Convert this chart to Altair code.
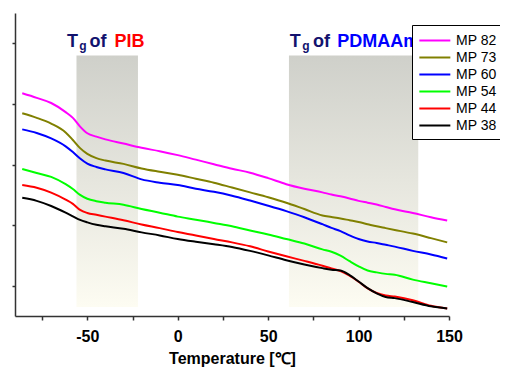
import altair as alt
import pandas as pd

# ---------------- data ----------------
temperature = [-86, -78, -70, -62, -58, -54, -50, -45, -40, -30, -20, -10, 0, 10, 20, 30, 40, 50,
               60, 70, 80, 85, 90, 95, 100, 105, 110, 115, 120, 130, 140, 149]

mp82 = [7.35, 7.20, 7.03, 6.73, 6.54, 6.25, 6.03, 5.92, 5.83, 5.69, 5.55, 5.44, 5.31, 5.16, 5.01, 4.86,
        4.73, 4.55, 4.35, 4.20, 4.08, 4.01, 3.95, 3.88, 3.80, 3.74, 3.68, 3.60, 3.52, 3.40, 3.26, 3.15]
mp73 = [6.69, 6.54, 6.35, 6.06, 5.81, 5.54, 5.35, 5.21, 5.13, 5.02, 4.87, 4.76, 4.66, 4.53, 4.40, 4.24,
        4.08, 3.92, 3.74, 3.53, 3.32, 3.27, 3.22, 3.16, 3.10, 3.03, 2.96, 2.90, 2.84, 2.72, 2.57, 2.43]
mp60 = [6.16, 6.04, 5.86, 5.60, 5.41, 5.20, 5.03, 4.92, 4.84, 4.72, 4.51, 4.40, 4.32, 4.20, 4.10, 3.97,
        3.81, 3.64, 3.46, 3.26, 3.03, 2.91, 2.80, 2.66, 2.54, 2.46, 2.41, 2.35, 2.29, 2.15, 2.03, 1.90]
mp54 = [4.85, 4.72, 4.59, 4.35, 4.19, 4.00, 3.87, 3.79, 3.74, 3.67, 3.53, 3.41, 3.28, 3.18, 3.07, 2.96,
        2.82, 2.69, 2.54, 2.39, 2.20, 2.12, 1.99, 1.81, 1.64, 1.50, 1.44, 1.39, 1.36, 1.20, 1.08, 0.97]
mp44 = [4.32, 4.23, 4.07, 3.84, 3.70, 3.50, 3.40, 3.34, 3.28, 3.16, 3.02, 2.90, 2.77, 2.66, 2.54, 2.43,
        2.30, 2.13, 1.97, 1.82, 1.66, 1.57, 1.48, 1.33, 1.13, 0.91, 0.76, 0.68, 0.64, 0.52, 0.34, 0.25]
mp38 = [3.90, 3.80, 3.63, 3.41, 3.29, 3.17, 3.09, 3.01, 2.96, 2.88, 2.76, 2.66, 2.54, 2.45, 2.37, 2.28,
        2.15, 2.00, 1.84, 1.70, 1.58, 1.53, 1.50, 1.35, 1.14, 0.92, 0.75, 0.63, 0.59, 0.46, 0.32, 0.25]

series_names = ["MP 82", "MP 73", "MP 60", "MP 54", "MP 44", "MP 38"]
series_values = [mp82, mp73, mp60, mp54, mp44, mp38]
series_colors = ["#ff00ff", "#808000", "#0000ff", "#00ff00", "#ff0000", "#000000"]

# shaded Tg regions
region_start = [-56, 61.5]
region_end = [-22, 133]
region_bottom = [0.3, 0.3]
region_top = [8.6, 8.6]

# annotation pieces
label_text = ["T", "g", "of", "PIB", "T", "g", "of", "PDMAAm"]
label_x = [-61.2, -54.5, -48.8, -35.0, 62.0, 68.8, 74.8, 88.2]
label_y = [8.89, 8.78, 8.89, 8.89, 8.89, 8.78, 8.89, 8.89]
label_color = ["#12126e", "#12126e", "#12126e", "#ff0000", "#12126e", "#12126e", "#12126e", "#0000ff"]
label_size = [18, 12, 18, 18, 18, 12, 18, 18]

x_ticks = [-75, -50, -25, 0, 25, 50, 75, 100, 125, 150]
y_ticks = [1, 2, 3, 4, 5, 6, 7, 8, 9]

# ---------------- tables ----------------
rows = []
for name, vals in zip(series_names, series_values):
    for t, v in zip(temperature, vals):
        rows.append({"Temperature": t, "value": v, "sample": name})
lines_df = pd.DataFrame(rows)

regions_df = pd.DataFrame({"x": region_start, "x2": region_end, "y": region_bottom, "y2": region_top})
labels_df = pd.DataFrame({"x": label_x, "y": label_y, "text": label_text,
                          "color": label_color, "size": label_size})

FONT = "Liberation Sans"

x_scale = alt.Scale(domain=[-90, 150], nice=False, zero=False)
y_scale = alt.Scale(domain=[0, 10], nice=False, zero=False)

gradient = alt.Gradient(
    gradient="linear",
    stops=[alt.GradientStop(color="#cfd0ca", offset=0),
           alt.GradientStop(color="#fdfcf2", offset=1)],
    x1=0, x2=0, y1=0, y2=1,
)

x_axis = alt.Axis(
    values=x_ticks,
    labelExpr="datum.value % 50 === 0 ? '' + datum.value : ''",
    title="Temperature [℃]",
    titleFont=FONT, titleFontSize=16, titleFontWeight="bold", titleColor="#000000",
    titlePadding=6,
    labelFont=FONT, labelFontSize=16, labelFontWeight="bold", labelColor="#000000",
    labelPadding=8, labelFlush=False,
    tickSize=4, tickWidth=1.5, tickColor="#333333",
    domainColor="#333333", domainWidth=1.5, grid=False,
)
y_axis = alt.Axis(
    values=y_ticks, labels=False, title=None,
    tickSize=3, tickWidth=1.5, tickColor="#333333",
    domainColor="#333333", domainWidth=1.5, grid=False,
)

rects = alt.Chart(regions_df).mark_rect(fill=gradient).encode(
    x=alt.X("x:Q", scale=x_scale, axis=x_axis),
    x2="x2:Q",
    y=alt.Y("y:Q", scale=y_scale, axis=y_axis),
    y2="y2:Q",
)

lines = alt.Chart(lines_df).mark_line(strokeWidth=2, interpolate="monotone").encode(
    x=alt.X("Temperature:Q", scale=x_scale, axis=x_axis),
    y=alt.Y("value:Q", scale=y_scale, axis=y_axis),
    color=alt.Color(
        "sample:N",
        scale=alt.Scale(domain=series_names, range=series_colors),
        sort=series_names,
        legend=alt.Legend(
            title=None, orient="none", legendX=397, legendY=12,
            strokeColor="#000000", fillColor="#ffffff", padding=6,
            symbolType="M-1,0H2.8", symbolSize=266, symbolStrokeWidth=2,
            labelFont=FONT, labelFontSize=14, labelColor="#000000", labelOffset=19,
            rowPadding=0, zindex=1,
        ),
    ),
    detail="sample:N",
)

texts = alt.Chart(labels_df).mark_text(
    align="left", baseline="alphabetic", font=FONT, fontWeight="bold"
).encode(
    x=alt.X("x:Q", scale=x_scale),
    y=alt.Y("y:Q", scale=y_scale),
    text="text:N",
    color=alt.Color("color:N", scale=None),
    size=alt.Size("size:Q", scale=None),
)

chart = alt.layer(rects, lines, texts).properties(
    width=434, height=303,
    autosize=alt.AutoSizeParams(type="none"),
    padding={"left": 7, "top": 5, "right": 51, "bottom": 52},
).configure_view(stroke=None)

chart.save("out.html", embed_options={"renderer": "svg", "actions": False})
